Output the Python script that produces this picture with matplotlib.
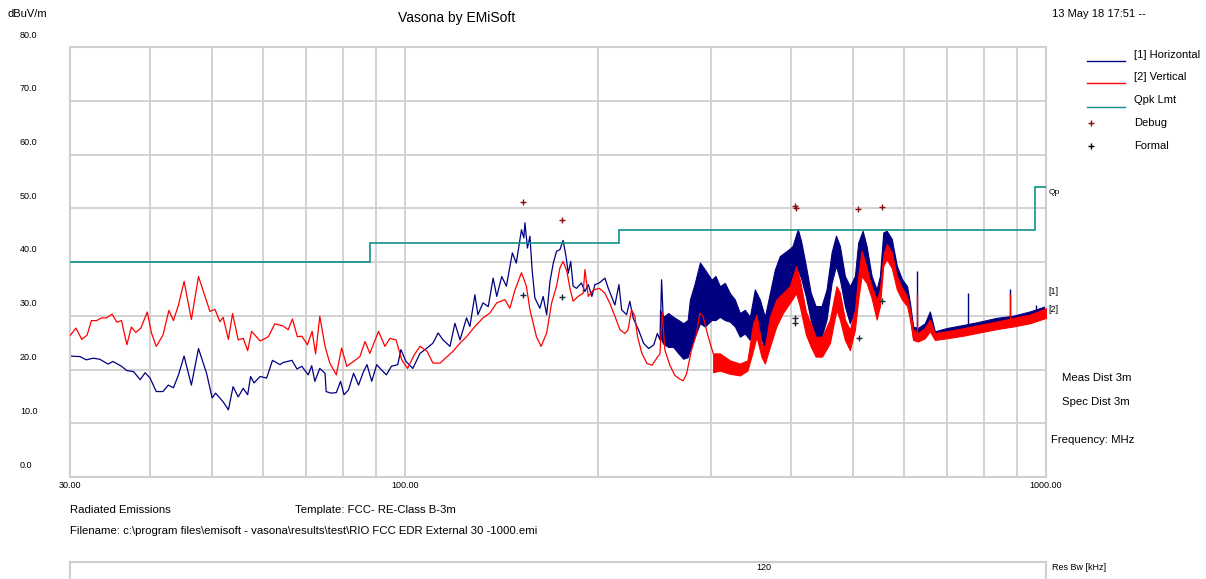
import matplotlib
matplotlib.use("Agg")
import matplotlib.pyplot as plt
from matplotlib.lines import Line2D
from matplotlib.transforms import blended_transform_factory, ScaledTranslation
from matplotlib.ticker import FixedLocator, NullFormatter

plt.rcParams['font.family'] = ['Liberation Sans', 'DejaVu Sans']

# ---------------- data ----------------
# [1] Horizontal - single trace part (MHz, dBuV/m)
H_FREQ = [30, 31.1, 31.8, 32.6, 33.4, 34.4, 35.0, 36.1, 36.8, 37.7, 38.6, 39.3, 40.0, 40.9, 41.9,
          42.7, 43.5, 44.3, 45.2, 46.4, 47.6, 49.0, 50.0, 50.6, 52.0, 53.0, 53.9, 54.9, 55.9, 56.8,
          57.4, 58.1, 59.4, 60.8, 62.1, 63.8, 64.5, 66.6, 67.8, 69.0, 70.6, 71.5, 72.3,
          73.6, 75.0, 75.3, 76.6, 78.1, 79.3, 80.3, 81.6, 83.1, 84.6, 86.1, 87.2, 88.7, 90.3, 91.9,
          93.5, 95.2, 97.4, 98.5, 100.3, 102.8, 105.5, 108.2, 110.5, 112.6, 114.6, 117.5, 119.6,
          121.8, 124.7, 126.2, 128.5, 129.9, 132.3, 134.8, 137.2, 139.0, 141.5, 143.9, 147.0, 149.1,
          151.9, 153.2, 153.8, 155.2, 156.6, 157.8, 159.4, 162.3, 164.2, 166.3,
          168.3, 170.3, 172.3, 174.4, 176.4, 178.3, 179.7, 181.3, 182.9, 185.1, 188.4, 190.8, 193.1,
          195.6, 197.8, 200.9, 205.0, 207.5, 209.9, 212.5, 215.6, 217.7, 221.6, 224.2, 227.0, 231.3,
          235.5, 239.9, 244.4, 247.5, 249.9, 251.3, 252.8]
H_VAL = [22.5, 22.4, 21.8, 22.1, 21.9, 21.0, 21.5, 20.6, 19.8, 19.6, 18.1, 19.4, 18.4, 15.9, 15.9,
         17.1, 16.6, 19.0, 22.5, 17.1, 23.9, 19.3, 14.7, 15.6, 14.0, 12.5, 16.8, 14.9, 16.5, 15.3,
         18.7, 17.5, 18.7, 18.4, 21.7, 20.9, 21.3, 21.7, 20.1, 20.6, 19.0, 20.7, 17.8,
         20.2, 19.3, 15.9, 15.6, 15.7, 17.8, 15.3, 16.2, 19.3, 17.1, 19.6, 20.9, 17.8, 20.9, 19.9,
         19.0, 20.6, 20.9, 23.7, 21.5, 20.2, 23.0, 24.0, 24.9, 26.8, 25.5, 24.3, 28.6,
         25.5, 29.6, 28.0, 33.9, 30.2, 32.4, 31.7, 37.0, 33.6, 37.3, 35.5, 41.7, 39.8,
         46.0, 44.5, 47.3, 42.6, 44.8, 38.6, 33.3, 31.4, 33.6, 30.2,
         36.4, 39.8, 42.0, 42.3, 44.0, 41.0, 37.9, 40.1, 35.5, 35.1, 36.1, 34.5, 35.8,
         33.6, 35.8, 36.1, 37.0, 35.1, 33.6, 32.0, 35.8, 31.1, 30.2, 32.7, 29.5, 27.4,
         24.9, 23.9, 24.6, 26.7, 25.5, 36.7, 29.2]

# [1] Horizontal - dense band part (MHz, upper, lower)
H_BAND_FREQ = [249.8, 252.8, 257.4, 262.0, 267.0, 271.6, 276.0, 278.2, 283.2, 288.4, 293.6, 300.7,
               305.0, 309.8, 315.4, 321.2, 327.0, 332.9, 338.9, 345.1, 351.3, 357.7, 364.2, 370.8,
               377.5, 384.3, 398.4, 402.4, 410.0, 414.8, 422.0, 429.4, 437.0, 446.5, 454.6, 462.9,
               470.2, 476.8, 485.5, 494.3, 503.3, 509.3, 517.5, 524.8, 534.4, 544.2, 550.6, 557.3,
               564.1, 574.5, 585.1, 596.0, 607.1, 613.4, 620.4, 630.9, 647.0, 658.8, 670.8, 699.4,
               743.8, 788.3, 836.6, 888.6, 943.5, 1000]
H_BAND_HI = [31.1, 29.8, 30.5, 29.8, 29.2, 28.6, 29.2, 33.0, 36.1, 39.9, 38.6, 36.7,
             37.4, 35.5, 36.1, 34.2, 33.0, 30.5, 31.1, 29.8, 34.9, 33.0, 29.8, 34.2,
             38.6, 41.1, 42.5, 43.0, 46.1, 43.9, 39.3, 34.3, 31.8, 31.8, 34.9, 41.8,
             44.9, 43.0, 37.4, 35.5, 37.4, 43.6, 45.8, 43.0, 37.4, 34.9, 37.4, 45.5,
             45.8, 44.3, 39.3, 36.8, 35.5, 32.4, 28.0, 27.7, 28.6, 30.8, 27.1, 27.7,
             28.3, 28.9, 29.6, 30.0, 30.8, 31.8]
H_BAND_LO = [26.1, 24.8, 24.2, 24.2, 23.0, 22.0, 22.3, 23.6, 26.1, 28.6, 28.0, 29.2,
             29.2, 29.8, 29.2, 28.9, 28.0, 26.1, 26.7, 25.5, 29.2, 26.7, 23.6, 26.7,
             30.5, 33.0, 34.9, 36.5, 38.5, 37.0, 33.6, 29.3, 25.8, 26.1, 29.3, 36.1,
             39.3, 36.8, 31.8, 28.6, 31.1, 37.4, 41.8, 39.3, 34.9, 31.1, 33.6, 41.8,
             43.0, 41.1, 36.1, 33.6, 33.0, 29.9, 25.8, 25.8, 26.4, 27.4, 25.8, 26.1,
             26.6, 27.3, 27.9, 28.3, 28.9, 29.9]
H_SPIKE_FREQ = [628, 755, 878, 966, 1000]
H_SPIKE_LO = [27.7, 28.0, 29.5, 30.5, 31.0]
H_SPIKE_HI = [38.3, 34.3, 34.9, 32.0, 35.5]

# [2] Vertical - single trace part
V_FREQ = [30, 30.65, 31.3, 31.9, 32.4, 33.0, 33.6, 34.2, 34.9, 35.5, 36.1, 36.8, 37.4, 38.0, 38.7,
          39.6, 40.2, 40.9, 41.9, 42.8, 43.5, 44.3, 45.2, 46.4, 47.6, 49.6, 50.5, 51.4, 52.0, 53.0,
          53.8, 54.9, 55.9, 56.8, 57.6, 59.4, 61.2, 62.6, 64.5, 65.7, 66.7, 67.9, 69.0, 70.4, 71.6,
          72.5, 73.6, 75.0, 76.3, 78.1, 79.6, 81.1, 83.1, 85.0, 86.6, 88.1, 90.9, 93.0, 94.7, 96.8,
          98.8, 100.9, 103.3, 105.5, 108.2, 110.5, 113.4, 116.3, 118.8, 121.8, 124.7, 128.5, 132.3,
          135.6, 139.0, 143.1, 145.7, 148.4, 151.9, 154.6, 156.6, 160.3, 163.0, 166.3, 169.3, 172.3,
          174.4, 176.4, 178.8, 180.8, 182.9, 186.2, 189.6, 190.8, 193.1, 196.7, 200.9, 205.0, 208.7,
          212.5, 216.4, 220.2, 222.8, 225.5, 228.2, 230.5, 234.1, 238.5, 242.9, 247.5, 249.8, 251.9,
          254.3, 258.9, 263.6, 268.4, 271.6, 274.9, 279.8, 284.9, 288.4, 291.8, 297.1, 302.5]
V_VAL = [26.3, 27.7, 25.6, 26.4, 29.1, 29.1, 29.6, 29.6, 30.3, 28.8, 29.1, 24.6, 27.9, 26.9, 27.7,
         30.7, 26.8, 24.3, 26.4, 31.0, 29.1, 32.0, 36.4, 29.3, 37.3, 30.8, 31.2, 28.9, 29.7, 25.6,
         30.4, 25.5, 25.8, 23.5, 27.1, 25.3, 26.1, 28.5, 28.1, 27.4, 29.4, 26.1, 26.2, 24.6, 27.1,
         22.9, 29.9, 24.3, 21.2, 19.0, 24.0, 20.6, 21.5, 22.4, 25.2, 23.0, 27.1, 24.3, 25.8, 25.5,
         21.8, 20.2, 22.7, 24.3, 23.4, 21.2, 21.2, 22.4, 23.4, 24.9, 26.1, 28.0, 29.6,
         30.5, 32.4, 33.0, 31.4, 34.8, 38.0, 35.5, 31.1, 26.1, 24.3, 26.8, 32.4, 35.5,
         38.9, 40.1, 38.3, 35.1, 32.7, 33.6, 34.2, 38.6, 33.6, 34.8, 35.1, 34.2, 32.3,
         29.9, 27.4, 26.7, 27.4, 31.1, 30.0, 26.1, 23.0, 21.1, 20.8, 22.3, 22.9, 30.5,
         23.6, 20.8, 18.9, 18.2, 17.9, 19.2, 23.6, 26.7, 30.5, 29.8, 26.1, 23.0]

# [2] Vertical - dense band part
V_BAND_FREQ = [302.5, 309.8, 321.2, 332.9, 342.1, 349.2, 353.4, 359.9, 364.2, 370.8, 379.5, 388.5,
               398.4, 407.4, 413.0, 422.0, 429.4, 437.0, 447.3, 460.0, 471.0, 476.8,
               485.5, 494.3, 503.3, 509.3, 515.5, 524.8, 534.4, 544.2, 550.6, 557.3, 564.1, 574.5,
               585.1, 596.0, 607.1, 613.4, 620.4, 630.9, 647.0, 658.8, 670.8, 699.4, 743.8, 788.3,
               836.6, 888.6, 943.5, 1000]
V_BAND_HI = [23.0, 23.0, 21.7, 21.1, 21.7, 28.6, 30.2, 24.8, 24.2, 29.8, 33.0, 34.2,
             35.5, 39.2, 36.7, 30.8, 28.6, 26.1, 26.1, 29.3, 35.5, 34.3,
             29.3, 27.4, 31.1, 37.4, 42.1, 38.9, 35.5, 33.0, 34.9, 41.1, 43.3, 41.8,
             37.4, 35.2, 33.6, 31.1, 27.4, 26.8, 27.7, 29.3, 26.8, 27.1, 27.7, 28.3,
             28.9, 29.6, 30.2, 31.4]
V_BAND_LO = [19.5, 19.8, 19.2, 18.9, 19.8, 23.6, 26.1, 22.3, 21.1, 24.2, 28.0, 30.5,
             32.4, 34.2, 31.7, 26.5, 24.3, 22.4, 22.4, 24.9, 31.1, 29.3,
             25.5, 23.6, 27.4, 33.0, 37.4, 36.1, 33.3, 29.3, 31.8, 39.3, 40.5, 38.9,
             34.9, 33.0, 31.8, 29.3, 25.5, 25.2, 25.8, 27.1, 25.5, 25.8, 26.3, 26.9,
             27.5, 28.0, 28.6, 29.6]
V_SPIKE_FREQ = [628, 878, 1000]
V_SPIKE_LO = [26.5, 29.0, 30.0]
V_SPIKE_HI = [34.0, 34.0, 31.5]

# Quasi-peak limit (FCC Class B, 3 m)
LIMIT_EDGES = [30, 88, 216, 960, 1000]
LIMIT_VALUES = [40.0, 43.5, 46.0, 54.0]

# Markers
DEBUG_FREQ = [152.7, 175.5, 406.0, 407.0, 509.4, 553.9]
DEBUG_VAL = [51.2, 47.9, 50.5, 50.0, 49.8, 50.3]
FORMAL_FREQ = [152.7, 175.5, 406.0, 406.0, 511.2, 553.9]
FORMAL_VAL = [33.9, 33.4, 29.5, 28.6, 25.9, 32.8]

Y_TICKS = [0, 10, 20, 30, 40, 50, 60, 70, 80]
X_MAJOR = [30, 100, 1000]
X_LABELS = ["30.00", "100.00", "1000.00"]
X_MINOR = [40, 50, 60, 70, 80, 90, 200, 300, 400, 500, 600, 700, 800, 900]

# ---------------- style ----------------
W, H = 1206, 579
BLUE = '#000080'
RED = '#ff0000'
TEAL = '#10908a'
GRID = '#cfcfcf'
DEBUG_C = '#8b1010'

fig = plt.figure(figsize=(W / 100, H / 100), dpi=100)
ax = fig.add_axes([70 / W, 1 - 477 / H, 976 / W, 430 / H])
ax.set_xscale('log')
ax.set_xlim(30, 1000)
ax.set_ylim(0, 80)

ax.xaxis.set_major_locator(FixedLocator(X_MAJOR))
ax.set_xticklabels(X_LABELS)
ax.xaxis.set_minor_locator(FixedLocator(X_MINOR))
ax.xaxis.set_minor_formatter(NullFormatter())
ax.set_yticks(Y_TICKS)
ax.set_yticklabels([])
ax.tick_params(axis='both', which='both', length=0)
ax.tick_params(axis='x', labelsize=6.5, pad=3)
ax.grid(True, which='both', color=GRID, linewidth=1.3)
ax.set_axisbelow(True)
for s in ax.spines.values():
    s.set_color(GRID)
    s.set_linewidth(1.5)

# y labels, offset above gridlines
trans = blended_transform_factory(fig.transFigure, ax.transData) + \
    ScaledTranslation(0, 12 / 100, fig.dpi_scale_trans)
for v in Y_TICKS:
    ax.text(20 / W, v, f"{v:.1f}", transform=trans, fontsize=6.5, ha='left', va='center')

# traces
ax.fill_between(H_BAND_FREQ, H_BAND_LO, H_BAND_HI, color=BLUE, linewidth=0.8, zorder=2)
ax.plot(H_FREQ, H_VAL, color=BLUE, linewidth=0.9, zorder=2)
ax.vlines(H_SPIKE_FREQ, H_SPIKE_LO, H_SPIKE_HI, color=BLUE, linewidth=1.0, zorder=2)
ax.fill_between(V_BAND_FREQ, V_BAND_LO, V_BAND_HI, color=RED, linewidth=0.8, zorder=3)
ax.plot(V_FREQ, V_VAL, color=RED, linewidth=0.9, zorder=3)
ax.vlines(V_SPIKE_FREQ, V_SPIKE_LO, V_SPIKE_HI, color=RED, linewidth=1.0, zorder=3)
ax.stairs(LIMIT_VALUES, LIMIT_EDGES, color=TEAL, linewidth=1.2, zorder=4, baseline=None)
ax.plot(DEBUG_FREQ, DEBUG_VAL, linestyle='none', marker='+', color=DEBUG_C,
        markersize=5, markeredgewidth=1.0, zorder=5)
ax.plot(FORMAL_FREQ, FORMAL_VAL, linestyle='none', marker='+', color='#1a2a30',
        markersize=5, markeredgewidth=1.0, zorder=5)


def ftext(px, py, s, size=8.2, ha='left'):
    fig.text(px / W, 1 - py / H, s, fontsize=size, ha=ha, va='center')


ftext(457, 18, "Vasona by EMiSoft", size=10, ha='center')
ftext(8, 14, "dBuV/m", size=8)
ftext(1052, 14, "13 May 18 17:51 --", size=8)

# legend
legend_rows = [("[1] Horizontal", BLUE, 55, 61), ("[2] Vertical", RED, 77, 83),
               ("Qpk Lmt", TEAL, 100, 107)]
for label, col, ty, ly in legend_rows:
    fig.add_artist(Line2D([1087 / W, 1125 / W], [1 - ly / H] * 2, color=col,
                          linewidth=1.0, transform=fig.transFigure))
    ftext(1134, ty, label, size=8)
for label, col, ty in [("Debug", DEBUG_C, 123), ("Formal", 'black', 146)]:
    fig.add_artist(Line2D([1091 / W], [1 - ty / H], color=col, marker='+', linestyle='none',
                          markersize=5, markeredgewidth=1.0, transform=fig.transFigure))
    ftext(1134, ty, label, size=8)

# right side annotations
ftext(1049, 193, "Qp", size=6)
ftext(1048, 291, "[1]", size=6.5)
ftext(1048, 310, "[2]", size=6.5)
ftext(1062, 378, "Meas Dist 3m")
ftext(1062, 402, "Spec Dist 3m")
ftext(1051, 440, "Frequency: MHz")

# bottom texts
ftext(70, 510, "Radiated Emissions")
ftext(295, 510, "Template: FCC- RE-Class B-3m")
ftext(70, 531, "Filename: c:\\program files\\emisoft - vasona\\results\\test\\RIO FCC EDR External 30 -1000.emi")

# Res Bw box
bx = fig.add_axes([70 / W, -20 / H, 976 / W, 37 / H])
bx.set_xticks([])
bx.set_yticks([])
for s in bx.spines.values():
    s.set_color(GRID)
    s.set_linewidth(1.5)
ftext(764, 568, "120", size=6.5, ha='center')
ftext(1052, 568, "Res Bw [kHz]", size=6.5)

fig.savefig("out.png", dpi=100)
